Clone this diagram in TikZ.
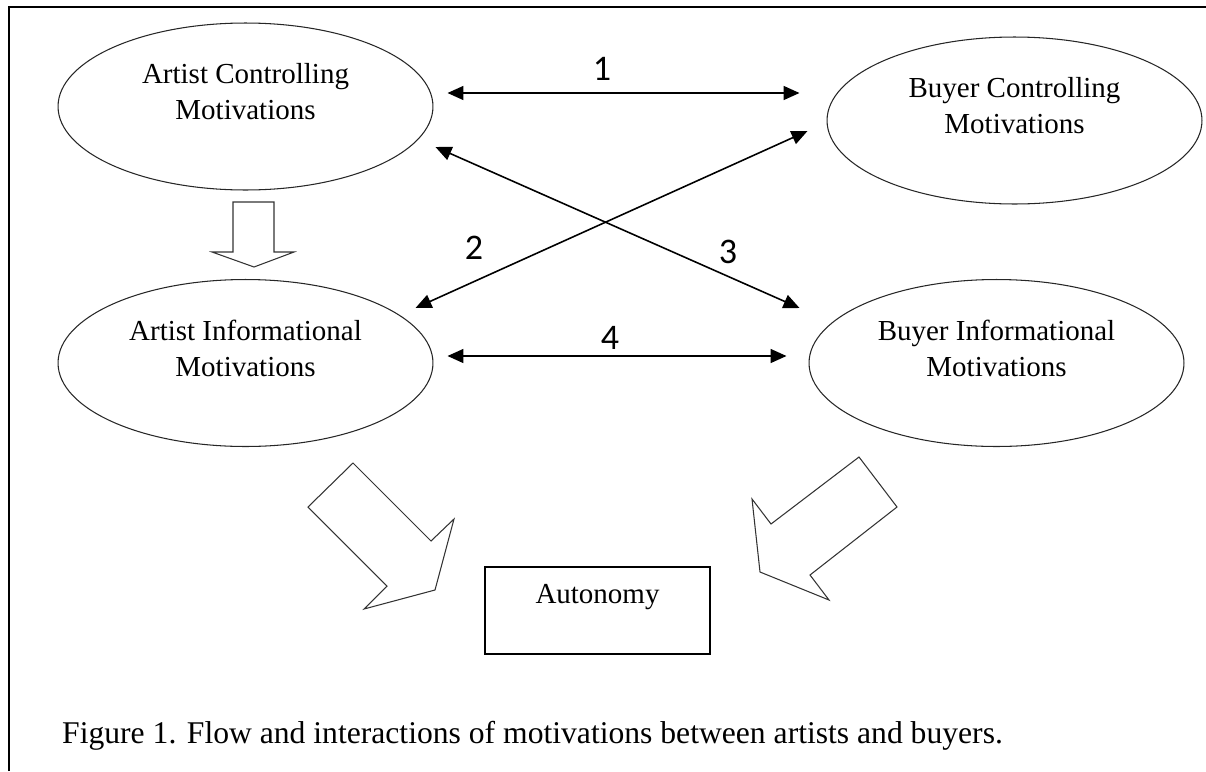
\documentclass[tikz,border=0pt]{standalone}
\usepackage{fontspec}
\setmainfont{Liberation Serif}
\newfontfamily\numfont{Carlito}
\usetikzlibrary{shapes.geometric,arrows.meta,positioning,calc}

\begin{document}
\begin{tikzpicture}[x=0.02cm,y=-0.02cm,
    motive/.style={draw=black!85,line width=0.6pt,ellipse,minimum width=7.5cm,minimum height=3.34cm},
    mtext/.style={align=center,font=\fontsize{16.5}{20.5}\selectfont},
    link/.style={line width=0.9pt,{Triangle[length=0.32cm,width=0.28cm]}-{Triangle[length=0.32cm,width=0.28cm]}},
    num/.style={font=\numfont\fontsize{20.5}{22}\selectfont},
    blockarrow/.style={draw=black!80,line width=0.6pt,line join=miter}]
    \useasboundingbox (0,0) rectangle (1206,771);

    % Frame
    \draw[line width=1.6pt] (9,771) -- (9,7) -- (1206,7);

    % Motivation ellipses
    \node[motive] (acm) at (245.5,106.5) {};
    \node[motive] (bcm) at (1014.5,120.5) {};
    \node[motive] (aim) at (245.5,363) {};
    \node[motive] (bim) at (996.5,363) {};
    \node[mtext] (acmtext) at ([yshift=0.3cm]acm.center) {Artist Controlling\\Motivations};
    \node[mtext] (bcmtext) at ([yshift=0.3cm]bcm.center) {Buyer Controlling\\Motivations};
    \node[mtext] (aimtext) at ([yshift=0.3cm]aim.center) {Artist Informational\\Motivations};
    \node[mtext] (bimtext) at ([yshift=0.3cm]bim.center) {Buyer Informational\\Motivations};

    % Outcome box
    \node[draw,line width=0.9pt,minimum width=4.5cm,minimum height=1.74cm] (auto) at (597.5,610.5) {};
    \node[mtext] (autotext) at ([yshift=0.27cm]auto.center) {Autonomy};

    % Interaction arrows
    \coordinate (acm1) at ([shift={(14,-13.5)}]acm.east);
    \coordinate (bcm1) at ([shift={(-27,-27.5)}]bcm.west);
    \coordinate (aim2) at ([shift={(-18,-55)}]aim.east);
    \coordinate (bcm2) at ([shift={(-19,10.5)}]bcm.west);
    \coordinate (acm3) at ([shift={(2,40.5)}]acm.east);
    \coordinate (bim3) at ([shift={(-9,-55)}]bim.west);
    \coordinate (aim4) at ([shift={(14,-7)}]aim.east);
    \coordinate (bim4) at ([shift={(-22,-7)}]bim.west);
    \draw[link] (acm1) -- (bcm1);
    \draw[link] (aim2) -- (bcm2);
    \draw[link] (acm3) -- (bim3);
    \draw[link] (aim4) -- (bim4);
    \node[num] (n1) at (602,69) {1};
    \node[num] (n2) at (474,248) {2};
    \node[num] (n3) at (728,252) {3};
    \node[num] (n4) at (610,338) {4};

    % Block arrows
    \draw[blockarrow] (233,202) -- (274,202) -- (274,252) -- (294,252) -- (254,267) -- (212,252) -- (233,252) -- cycle;
    \draw[blockarrow] (353,463) -- (431,541) -- (454,519) -- (435,590) -- (364,609) -- (387,586) -- (308,507) -- cycle;
    \draw[blockarrow] (859,457) -- (897,507) -- (810,575) -- (829,600) -- (760,572) -- (752,499) -- (771,524) -- cycle;

    % Caption
    \node[anchor=base west,font=\fontsize{18}{21}\selectfont] (caption) at (56,743) {Figure 1. Flow and interactions of motivations between artists and buyers.};
\end{tikzpicture}
\end{document}
